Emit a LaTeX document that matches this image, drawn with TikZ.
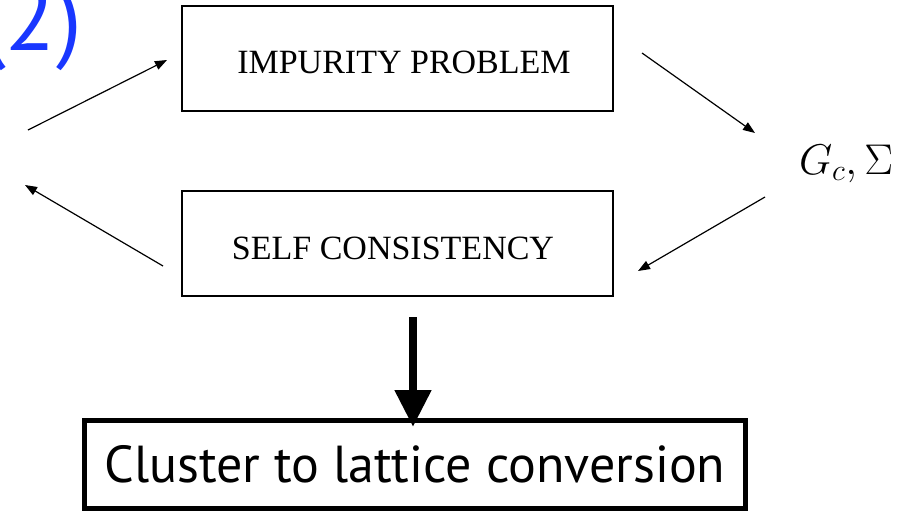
\documentclass[tikz,border=0pt]{standalone}
\usepackage{fix-cm}
\usepackage{fontspec}
\setmainfont{Liberation Serif}
\newfontfamily\gillfont{PT Sans}
\usetikzlibrary{arrows.meta}
\definecolor{slideblue}{RGB}{25,55,255}
\tikzset{stepbox/.style={draw, line width=1.2pt, inner sep=0,
                         minimum width=431pt, minimum height=105pt,
                         font=\fontsize{34}{40}\selectfont, text height=31pt, text depth=0pt},
         % thin arrows of the loop
         flow/.style={line width=1.2pt, -{Triangle[length=12pt,width=9pt]}},
         bigflow/.style={line width=8pt, -{Triangle[length=37pt,width=35pt]}}}

\begin{document}
\begin{tikzpicture}[x=1pt, y=-1pt]
        \useasboundingbox (0, 0) rectangle (901, 511);
        \node[text=slideblue, anchor=base east, inner sep=0,
              font=\gillfont\fontsize{92}{100}\selectfont] (tag) at (82, 51) {(2)};
        \node[stepbox] (impurity) at (397.5, 58.5) {\hspace*{13pt}IMPURITY PROBLEM};
        \node[stepbox] (selfcons) at (397.5, 243.5) {SELF CONSISTENCY\hspace*{9pt}};
        \node[inner sep=0, font=\fontsize{43}{50}\selectfont] (gsigma) at (846, 164) {$G_c,\Sigma$};
        \node[draw, line width=5pt, inner sep=0, minimum width=661pt, minimum height=88pt,
              font=\gillfont\fontsize{52}{60}\selectfont] (conversion) at (415, 464) {Cluster to lattice conversion};
        % loop
        \coordinate (inL) at (28, 130);
        \coordinate (inR) at (167, 60);
        \coordinate (outL) at (163, 266);
        \coordinate (outR) at (25, 185);
        \coordinate (toG) at (642, 53);
        \coordinate (atG) at (755, 133);
        \coordinate (fromG) at (765, 197);
        \coordinate (backG) at (638, 271);
        \draw[flow] (inL) -- (inR);
        \draw[flow] (outL) -- (outR);
        \draw[flow] (toG) -- (atG);
        \draw[flow] (fromG) -- (backG);
        \coordinate (down) at (413, 317);
        \coordinate (landing) at (413, 427);
        \draw[bigflow] (down) -- (landing);
    \end{tikzpicture}
\end{document}
